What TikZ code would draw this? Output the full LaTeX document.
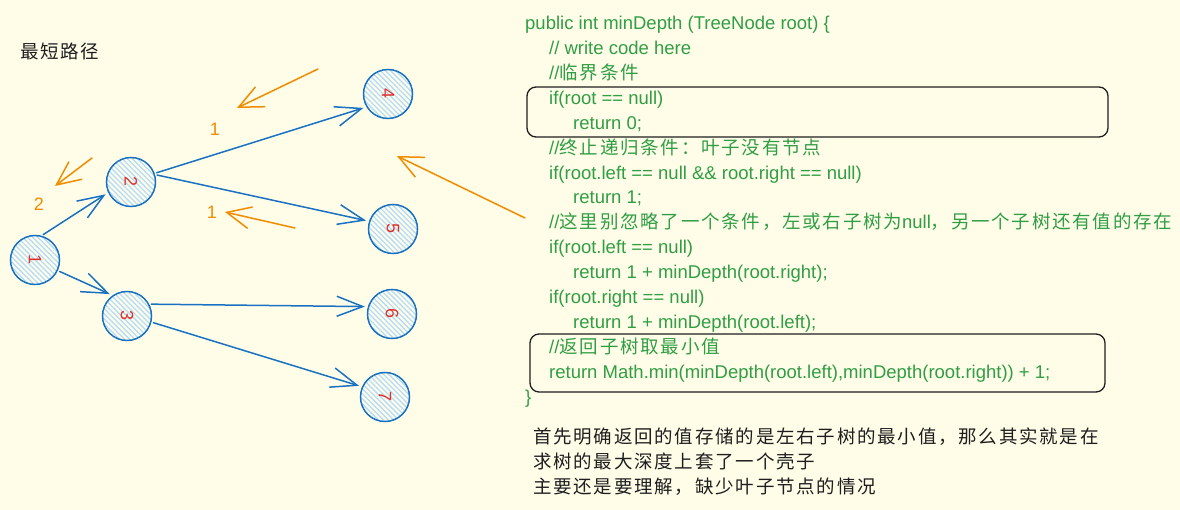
\documentclass[tikz,border=0pt]{standalone}
\usepackage{graphicx}
\usepackage{fontspec}
\setmainfont{Liberation Sans}
\newfontfamily\zhfont{Noto Sans CJK SC}[LetterSpace=9.5]
\usetikzlibrary{arrows.meta,patterns.meta}
\definecolor{paper}{RGB}{255,253,232}
\definecolor{treeblue}{RGB}{25,113,194}
\definecolor{hatchblue}{RGB}{180,220,250}
\definecolor{numred}{RGB}{224,49,49}
\definecolor{codegreen}{RGB}{47,158,68}
\definecolor{noteorange}{RGB}{240,140,0}
\definecolor{inkgray}{RGB}{30,30,30}
\newcommand{\zh}[1]{{\zhfont\fontsize{18.5}{25}\selectfont #1}}
\newcommand{\turned}[1]{\rotatebox[origin=c]{-90}{#1}}
\tikzset{
  treenode/.style={circle, draw=treeblue, line width=1.5pt, minimum size=49pt, inner sep=0pt,
    pattern={Lines[angle=-45,distance=3.6pt,line width=1.3pt]}, pattern color=hatchblue,
    text=numred, font=\fontsize{18}{18}\selectfont},
  treeedge/.style={draw=treeblue, line width=1.5pt, line cap=round,
    -{Straight Barb[length=26pt,width=20pt]}, shorten >=3pt, shorten <=2pt},
  notearrow/.style={draw=noteorange, line width=1.5pt, line cap=round,
    -{Straight Barb[length=24pt,width=22pt]}},
  notelabel/.style={text=noteorange, font=\fontsize{18}{18}\selectfont},
  codeline/.style={anchor=base west, inner sep=0pt, text=codegreen, font=\fontsize{18.5}{25}\selectfont},
  plaintext/.style={anchor=base west, inner sep=0pt, text=inkgray},
  notebox/.style={draw=inkgray, line width=1.3pt, rounded corners=9pt}
}
\begin{document}
\begin{tikzpicture}[x=1pt, y=-1pt]
  \useasboundingbox (0,0) rectangle (1180,510);
  \fill[paper] (0,0) rectangle (1180,510);
  % title
  \node[plaintext] (title) at (20,58.5) {\zh{最短路径}};
  % tree nodes
  \node[treenode] (n1) at (35,260) {\turned{1}};
  \node[treenode] (n2) at (131,182) {\turned{2}};
  \node[treenode] (n3) at (127,316) {\turned{3}};
  \node[treenode] (n4) at (388,94) {\turned{4}};
  \node[treenode] (n5) at (393,229) {\turned{5}};
  \node[treenode] (n6) at (392,314) {\turned{6}};
  \node[treenode] (n7) at (385,397) {\turned{7}};
  % tree edges
  \draw[treeedge] (n1.75) -- (n2.205);
  \draw[treeedge] (n1.335) -- (n3.125);
  \draw[treeedge] (n2.20) -- (n4.211);
  \draw[treeedge] (n2.17) -- (n5.162);
  \draw[treeedge] (n3.28) -- (n6.163);
  \draw[treeedge] (n3.346) -- (n7.156);
  % orange return arrows
  \coordinate (r1s) at (318,69);
  \coordinate (r1e) at (237,108);
  \coordinate (r2s) at (92,158);
  \coordinate (r2e) at (55,186);
  \coordinate (r3s) at (295,228);
  \coordinate (r3e) at (225,212);
  \coordinate (r4s) at (525,218);
  \coordinate (r4e) at (397,156);
  \draw[notearrow] (r1s) -- (r1e);
  \draw[notearrow] (r2s) -- (r2e);
  \draw[notearrow] (r3s) -- (r3e);
  \draw[notearrow] (r4s) -- (r4e);
  \node[notelabel] (d1) at (215,129) {1};
  \node[notelabel] (d2) at (39,204) {2};
  \node[notelabel] (d3) at (212,212) {1};
  % code
  \node[codeline] (c1) at (525,29.5) {public int minDepth (TreeNode root) \{};
  \node[codeline] (c2) at (549,54.4) {// write code here};
  \node[codeline] (c3) at (549,79.4) {//\zh{临界条件}};
  \node[codeline] (c4) at (549,104.3) {if(root == null)};
  \node[codeline] (c5) at (573,129.2) {return 0;};
  \node[codeline] (c6) at (549,154.2) {//\zh{终止递归条件：叶子没有节点}};
  \node[codeline] (c7) at (549,179.1) {if(root.left == null \&\& root.right == null)};
  \node[codeline] (c8) at (573,204) {return 1;};
  \node[codeline] (c9) at (549,228.9) {//\zh{这里别忽略了一个条件，左或右子树为}null\zh{，另一个子树还有值的存在}};
  \node[codeline] (c10) at (549,253.9) {if(root.left == null)};
  \node[codeline] (c11) at (573,278.8) {return 1 + minDepth(root.right);};
  \node[codeline] (c12) at (549,303.7) {if(root.right == null)};
  \node[codeline] (c13) at (573,328.6) {return 1 + minDepth(root.left);};
  \node[codeline] (c14) at (549,353.6) {//\zh{返回子树取最小值}};
  \node[codeline] (c15) at (549,378.5) {return Math.min(minDepth(root.left),minDepth(root.right)) + 1;};
  \node[codeline] (c16) at (525,403.4) {\}};
  % highlight boxes
  \draw[notebox] (527,87) rectangle (1108,137);
  \draw[notebox] (530,334) rectangle (1105,392);
  % explanation
  \node[plaintext] (e1) at (533,443.5) {\zh{首先明确返回的值存储的是左右子树的最小值，那么其实就是在}};
  \node[plaintext] (e2) at (533,468.5) {\zh{求树的最大深度上套了一个壳子}};
  \node[plaintext] (e3) at (533,493.5) {\zh{主要还是要理解，缺少叶子节点的情况}};
\end{tikzpicture}
\end{document}
